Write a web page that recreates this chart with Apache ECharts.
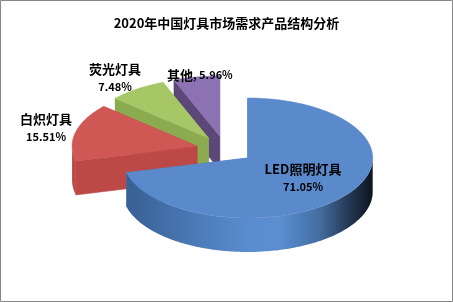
<!DOCTYPE html>
<html><head><meta charset="utf-8">
<script src="https://cdn.jsdelivr.net/npm/echarts@6/dist/echarts.min.js"></script>
<style>html,body{margin:0;padding:0;background:#fff}#c{width:453px;height:302px}</style>
</head><body><div id="c"></div>
<script>
// ---- data ----
const chartTitle = '2020年中国灯具市场需求产品结构分析';
const categories = ['LED照明灯具', '白炽灯具', '荧光灯具', '其他'];
const values = [71.05, 15.51, 7.48, 5.96];

// ---- styles / layout ----
const topColors = ['#5A8ACB', '#CF5754', '#A7C766', '#8C71B3'];
const sideColors = ['#4A7AB8', '#BC4946', '#8CAB50', '#5B4878'];
const drawRank = [3, 2, 1, 0];
const labelAnchors = [[303, 178, 'center'], [46, 128, 'center'], [115, 78, 'center'], [167, 75, 'left']];
const CX = 225, CY = 149.5, RX = 125, RY = 60, DEPTH = 34, EXPLODE = 0.23;
const CJK = '"Noto Sans CJK SC", "Noto Sans", sans-serif';

const total = values.reduce((a, b) => a + b, 0);

function renderItem(params, api) {
  const i = params.dataIndex;
  const v = api.value(0);
  let start = 0;
  for (let k = 0; k < i; k++) start += values[k];
  const a0 = start / total * 360, a1 = (start + v) / total * 360;
  const mid = (a0 + a1) / 2 * Math.PI / 180;
  const vx = CX + EXPLODE * RX * Math.sin(mid);
  const vy = CY - EXPLODE * RY * Math.cos(mid);
  const P = (deg, dy) => {
    const r = deg * Math.PI / 180;
    return [vx + RX * Math.sin(r), vy - RY * Math.cos(r) + (dy || 0)];
  };
  const base = drawRank[i] * 10;
  const children = [];
  // radial walls
  [a0, a1].forEach(a => {
    const p = P(a), pb = P(a, DEPTH);
    children.push({
      type: 'polygon', z2: base + 1,
      shape: { points: [[vx, vy], p, pb, [vx, vy + DEPTH]] },
      style: { fill: sideColors[i], stroke: sideColors[i], lineWidth: 0.5 }
    });
  });
  // front outer wall
  const lo = Math.max(a0, 90), hi = Math.min(a1, 270);
  if (hi > lo) {
    const pts = [];
    for (let a = lo; a <= hi; a += 1) pts.push(P(a));
    pts.push(P(hi));
    for (let a = hi; a >= lo; a -= 1) pts.push(P(a, DEPTH));
    pts.push(P(lo, DEPTH));
    let fill = sideColors[i];
    if (i === 0) {
      fill = {
        type: 'linear', x: 0, y: 0, x2: 1, y2: 0,
        colorStops: [
          { offset: 0, color: '#395F93' },
          { offset: 0.25, color: '#4977B3' },
          { offset: 0.5, color: '#5A8DCF' },
          { offset: 0.62, color: '#5B8ED0' },
          { offset: 0.78, color: '#446FA3' },
          { offset: 0.9, color: '#253A57' },
          { offset: 1, color: '#0D1520' }
        ]
      };
    }
    children.push({
      type: 'polygon', z2: base + 2,
      shape: { points: pts },
      style: { fill: fill }
    });
  }
  // top face
  const tp = [[vx, vy]];
  for (let a = a0; a <= a1; a += 1) tp.push(P(a));
  tp.push(P(a1));
  children.push({
    type: 'polygon', z2: base + 3,
    shape: { points: tp },
    style: { fill: topColors[i], stroke: topColors[i], lineWidth: 0.5 }
  });
  // label
  const la = labelAnchors[i];
  const pct = v.toFixed(2) + '%';
  const txt = la[2] === 'left'
    ? '{c|' + categories[i] + '}{n|, ' + pct + '}'
    : '{c|' + categories[i] + '}\n{n|' + pct + '}';
  children.push({
    type: 'text', z2: 100, x: la[0], y: la[1],
    style: {
      text: txt, align: la[2], verticalAlign: 'middle',
      rich: {
        c: { fontFamily: CJK, fontSize: 13, fontWeight: 'bold', fill: '#000', lineHeight: 17 },
        n: { fontFamily: CJK, fontSize: 11, fontWeight: 'bold', fill: '#000', lineHeight: 17 }
      }
    }
  });
  return { type: 'group', children: children };
}

const chart = echarts.init(document.getElementById('c'), null, { renderer: 'canvas' });
chart.setOption({
  backgroundColor: '#fff',
  animation: false,
  title: {
    text: chartTitle, left: 'center', top: 12,
    textStyle: { fontFamily: CJK, fontSize: 13, fontWeight: 'bold', color: '#000' }
  },
  graphic: [{
    type: 'rect', silent: true, z: -1,
    shape: { x: 0.5, y: 0.5, width: 452, height: 301 },
    style: { fill: 'none', stroke: '#868686', lineWidth: 1 }
  }],
  series: [{
    type: 'custom',
    coordinateSystem: 'none',
    renderItem: renderItem,
    data: values.map((v, k) => ({ name: categories[k], value: [v] }))
  }]
});
</script>
</body></html>
